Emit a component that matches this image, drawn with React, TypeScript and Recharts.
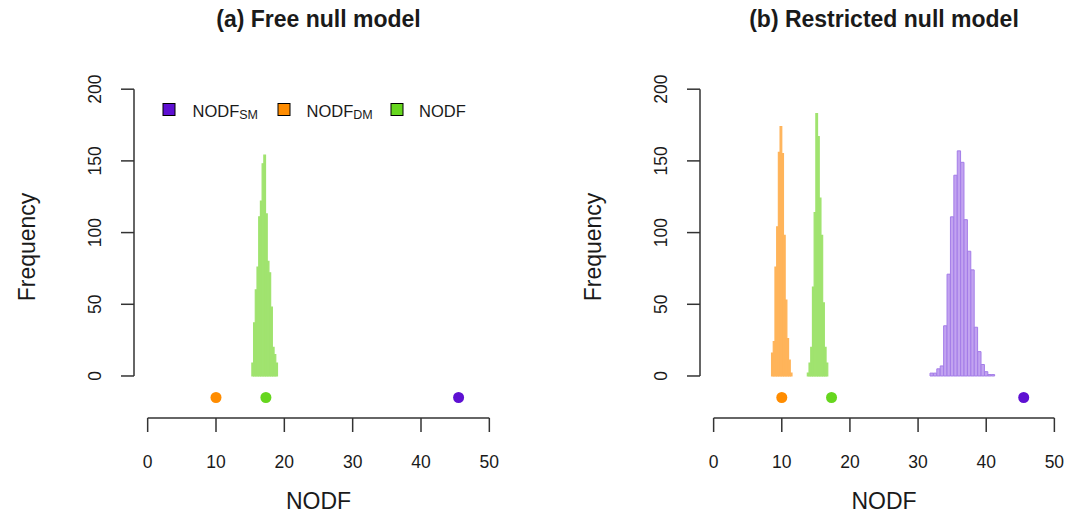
import React from 'react';
import { ComposedChart, Bar, Scatter, XAxis, YAxis, ReferenceLine } from 'recharts';

const FONT = '"Liberation Sans", Arial, Helvetica, sans-serif';
const TEXT_COLOR = '#1a1a1a';
const AXIS_COLOR = '#333333';

// ---- axes ----
const xTicks = [0, 10, 20, 30, 40, 50];
const yTicks = [0, 50, 100, 150, 200];
const X_DOMAIN: [number, number] = [-2, 52];
const Y_DOMAIN: [number, number] = [-29.3, 209.2];
const X_AXIS_SPAN = [0, 50];
const Y_AXIS_SPAN = [0, 200];

// ---- histogram bins (left edges) and frequencies ----
const NARROW_BIN = 0.25;
const WIDE_BIN = 0.5;

// (a) Free null model: NODF
const freeNodfBins = [15.25, 15.5, 15.75, 16, 16.25, 16.5, 16.75, 17, 17.25, 17.5, 17.75, 18, 18.25, 18.5, 18.75];
const freeNodfCounts = [9, 37, 60, 76, 111, 122, 148, 154, 113, 80, 72, 48, 20, 15, 9];

// (b) Restricted null model: NODF_DM
const restDmBins = [8.5, 8.75, 9, 9.25, 9.5, 9.75, 10, 10.25, 10.5, 10.75, 11, 11.25];
const restDmCounts = [16, 24, 76, 104, 156, 174, 155, 98, 53, 26, 11, 2];

// (b) Restricted null model: NODF
const restNodfBins = [13.75, 14, 14.25, 14.5, 14.75, 15, 15.25, 15.5, 15.75, 16, 16.25, 16.5];
const restNodfCounts = [2, 9, 20, 62, 114, 183, 167, 124, 98, 51, 20, 9];

// (b) Restricted null model: NODF_SM
const restSmBins = [31.75, 32.25, 32.75, 33.25, 33.75, 34.25, 34.75, 35.25, 35.75, 36.25, 36.75, 37.25, 37.75, 38.25, 38.75, 39.25, 39.75, 40.25, 40.75];
const restSmCounts = [2, 2, 5, 7, 35, 71, 111, 140, 157, 149, 109, 87, 74, 34, 17, 8, 3, 1, 1];

// ---- observed values (dots) ----
const observedSm = 45.5;
const observedDm = 10;
const observedNodf = 17.3;
const OBSERVED_ROW = -15;

// ---- legend ----
const legendLabels = ['NODF', 'NODF', 'NODF'];
const legendSubs = ['SM', 'DM', ''];

// ---- colours ----
const SM_COLOR = '#5E10D2';
const DM_COLOR = '#FF8C00';
const NODF_COLOR = '#66D61E';
const SM_FILL = '#C2A3F0';
const SM_EDGE = '#A47DE8';
const DM_FILL = '#FFB45A';
const NODF_FILL = '#A0E36F';
const legendColors = [SM_COLOR, DM_COLOR, NODF_COLOR];

// ---- geometry ----
const H = 515;
const PLOT_TOP = 76;
const X_AXIS_H = 97;
const Y_AXIS_W = 134;
const panelA = { left: 0, width: 534, right: 31 };
const panelB = { left: 566, width: 502, right: 0 };

const pxPerUnit = (p: { width: number; right: number }) =>
  (p.width - Y_AXIS_W - p.right) / (X_DOMAIN[1] - X_DOMAIN[0]);

function buildRows(bins: number[], counts: number[], binWidth: number, key: string) {
  return bins.map((b, i) => ({ x: b + binWidth / 2, [key]: counts[i] }));
}

const freeRows = buildRows(freeNodfBins, freeNodfCounts, NARROW_BIN, 'nodf');
const restRows = [
  ...buildRows(restDmBins, restDmCounts, NARROW_BIN, 'dm'),
  ...buildRows(restNodfBins, restNodfCounts, NARROW_BIN, 'nodf'),
];
const restSmRows = buildRows(restSmBins, restSmCounts, WIDE_BIN, 'sm');

const YTick = (props: any) => {
  const { x, y, payload } = props;
  return (
    <text
      x={x}
      y={y}
      transform={`rotate(-90, ${x}, ${y})`}
      textAnchor="middle"
      dominantBaseline="central"
      fontSize={17.5}
      fill={TEXT_COLOR}
      fontFamily={FONT}
    >
      {payload.value}
    </text>
  );
};

const YLabel = (props: any) => {
  const vb = props.viewBox;
  const cx = vb.x + vb.width - 107;
  const cy = vb.y + vb.height / 2;
  return (
    <text
      x={cx}
      y={cy}
      transform={`rotate(-90, ${cx}, ${cy})`}
      textAnchor="middle"
      dominantBaseline="central"
      fontSize={23}
      fill={TEXT_COLOR}
      fontFamily={FONT}
    >
      Frequency
    </text>
  );
};

const XLabel = (props: any) => {
  const vb = props.viewBox;
  return (
    <text x={vb.x + vb.width / 2} y={vb.y + 91} textAnchor="middle" fontSize={23} fill={TEXT_COLOR} fontFamily={FONT}>
      NODF
    </text>
  );
};

const dot = (color: string) => (p: any) => <circle cx={p.cx} cy={p.cy} r={5.5} fill={color} />;

function axisElements() {
  return [
    <XAxis
      key="xmain"
      xAxisId="main"
      type="number"
      dataKey="x"
      domain={X_DOMAIN}
      ticks={xTicks}
      interval={0}
      axisLine={false}
      tickLine={{ stroke: AXIS_COLOR, strokeWidth: 1.5 }}
      tickSize={14}
      tickMargin={24}
      height={X_AXIS_H}
      tick={{ fontSize: 17.5, fill: TEXT_COLOR, fontFamily: FONT }}
      label={XLabel}
    />,
    <XAxis key="xpts" xAxisId="pts" type="number" dataKey="x" domain={X_DOMAIN} hide />,
    <YAxis
      key="y"
      type="number"
      domain={Y_DOMAIN}
      ticks={yTicks}
      interval={0}
      axisLine={false}
      tickLine={{ stroke: AXIS_COLOR, strokeWidth: 1.5 }}
      tickSize={13}
      tickMargin={26}
      width={Y_AXIS_W}
      tick={YTick}
      label={YLabel}
    />,
    <ReferenceLine
      key="xline"
      xAxisId="main"
      ifOverflow="visible"
      segment={[
        { x: X_AXIS_SPAN[0], y: Y_DOMAIN[0] },
        { x: X_AXIS_SPAN[1], y: Y_DOMAIN[0] },
      ]}
      stroke={AXIS_COLOR}
      strokeWidth={1.5}
    />,
    <ReferenceLine
      key="yline"
      xAxisId="main"
      ifOverflow="visible"
      segment={[
        { x: X_DOMAIN[0], y: Y_AXIS_SPAN[0] },
        { x: X_DOMAIN[0], y: Y_AXIS_SPAN[1] },
      ]}
      stroke={AXIS_COLOR}
      strokeWidth={1.5}
    />,
  ];
}

function observedElements() {
  return [
    <Scatter key="o-dm" xAxisId="pts" name="NODF_DM observed" data={[{ x: observedDm, y: OBSERVED_ROW }]} dataKey="y" shape={dot(DM_COLOR)} isAnimationActive={false} />,
    <Scatter key="o-nodf" xAxisId="pts" name="NODF observed" data={[{ x: observedNodf, y: OBSERVED_ROW }]} dataKey="y" shape={dot(NODF_COLOR)} isAnimationActive={false} />,
    <Scatter key="o-sm" xAxisId="pts" name="NODF_SM observed" data={[{ x: observedSm, y: OBSERVED_ROW }]} dataKey="y" shape={dot(SM_COLOR)} isAnimationActive={false} />,
  ];
}

export default function App() {
  const narrowA = NARROW_BIN * pxPerUnit(panelA) * 0.99;
  const narrowB = NARROW_BIN * pxPerUnit(panelB) * 0.99;
  const wideB = WIDE_BIN * pxPerUnit(panelB) * 0.97;

  return (
    <div
      style={{
        position: 'absolute',
        left: 0,
        top: 0,
        width: 1068,
        height: 515,
        background: '#ffffff',
        overflow: 'hidden',
        fontFamily: FONT,
      }}
    >
      {/* Panel (a) */}
      <div style={{ position: 'absolute', left: panelA.left, top: 0 }}>
        <ComposedChart
          width={panelA.width}
          height={H}
          data={freeRows}
          margin={{ top: PLOT_TOP, right: panelA.right, bottom: 0, left: 0 }}
        >
          {axisElements()}
          <Bar
            xAxisId="main"
            dataKey="nodf"
            name="NODF"
            stackId="h"
            fill={NODF_FILL}
            stroke={NODF_FILL}
            strokeWidth={1.2}
            barSize={narrowA}
            isAnimationActive={false}
          />
          {observedElements()}
        </ComposedChart>
      </div>

      {/* Panel (b) */}
      <div style={{ position: 'absolute', left: panelB.left, top: 0 }}>
        <ComposedChart
          width={panelB.width}
          height={H}
          data={restRows}
          margin={{ top: PLOT_TOP, right: panelB.right, bottom: 0, left: 0 }}
        >
          {axisElements()}
          <Bar
            xAxisId="main"
            dataKey="dm"
            name="NODF_DM"
            stackId="h"
            fill={DM_FILL}
            stroke={DM_FILL}
            strokeWidth={1.2}
            barSize={narrowB}
            isAnimationActive={false}
          />
          <Bar
            xAxisId="main"
            dataKey="nodf"
            name="NODF"
            stackId="h"
            fill={NODF_FILL}
            stroke={NODF_FILL}
            strokeWidth={1.2}
            barSize={narrowB}
            isAnimationActive={false}
          />
          {observedElements()}
        </ComposedChart>
      </div>
      <div style={{ position: 'absolute', left: panelB.left, top: 0 }}>
        <ComposedChart
          width={panelB.width}
          height={H}
          data={restSmRows}
          margin={{ top: PLOT_TOP, right: panelB.right, bottom: X_AXIS_H, left: Y_AXIS_W }}
        >
          <XAxis xAxisId="main" type="number" dataKey="x" domain={X_DOMAIN} hide />
          <YAxis type="number" domain={Y_DOMAIN} hide />
          <Bar
            xAxisId="main"
            dataKey="sm"
            name="NODF_SM"
            fill={SM_FILL}
            stroke={SM_EDGE}
            strokeWidth={1}
            barSize={wideB}
            isAnimationActive={false}
          />
        </ComposedChart>
      </div>

      {/* Titles and legend */}
      <svg
        width={1068}
        height={515}
        style={{ position: 'absolute', left: 0, top: 0, pointerEvents: 'none' }}
        fontFamily={FONT}
      >
        <text x={318.5} y={27} textAnchor="middle" fontSize={23} fontWeight="bold" fill={TEXT_COLOR}>
          (a) Free null model
        </text>
        <text x={884} y={27} textAnchor="middle" fontSize={23} fontWeight="bold" fill={TEXT_COLOR}>
          (b) Restricted null model
        </text>
        {legendLabels.map((lab, i) => {
          const boxX = [163, 278, 391][i];
          const textX = [192.5, 306.5, 419][i];
          return (
            <g key={i}>
              <rect x={boxX} y={103.5} width={12} height={12} fill={legendColors[i]} stroke="#000" strokeWidth={1} />
              <text x={textX} y={117} fontSize={16.5} fill={TEXT_COLOR}>
                {lab}
                {legendSubs[i] ? (
                  <tspan fontSize={12.5} dy={2}>
                    {legendSubs[i]}
                  </tspan>
                ) : null}
              </text>
            </g>
          );
        })}
      </svg>
    </div>
  );
}
